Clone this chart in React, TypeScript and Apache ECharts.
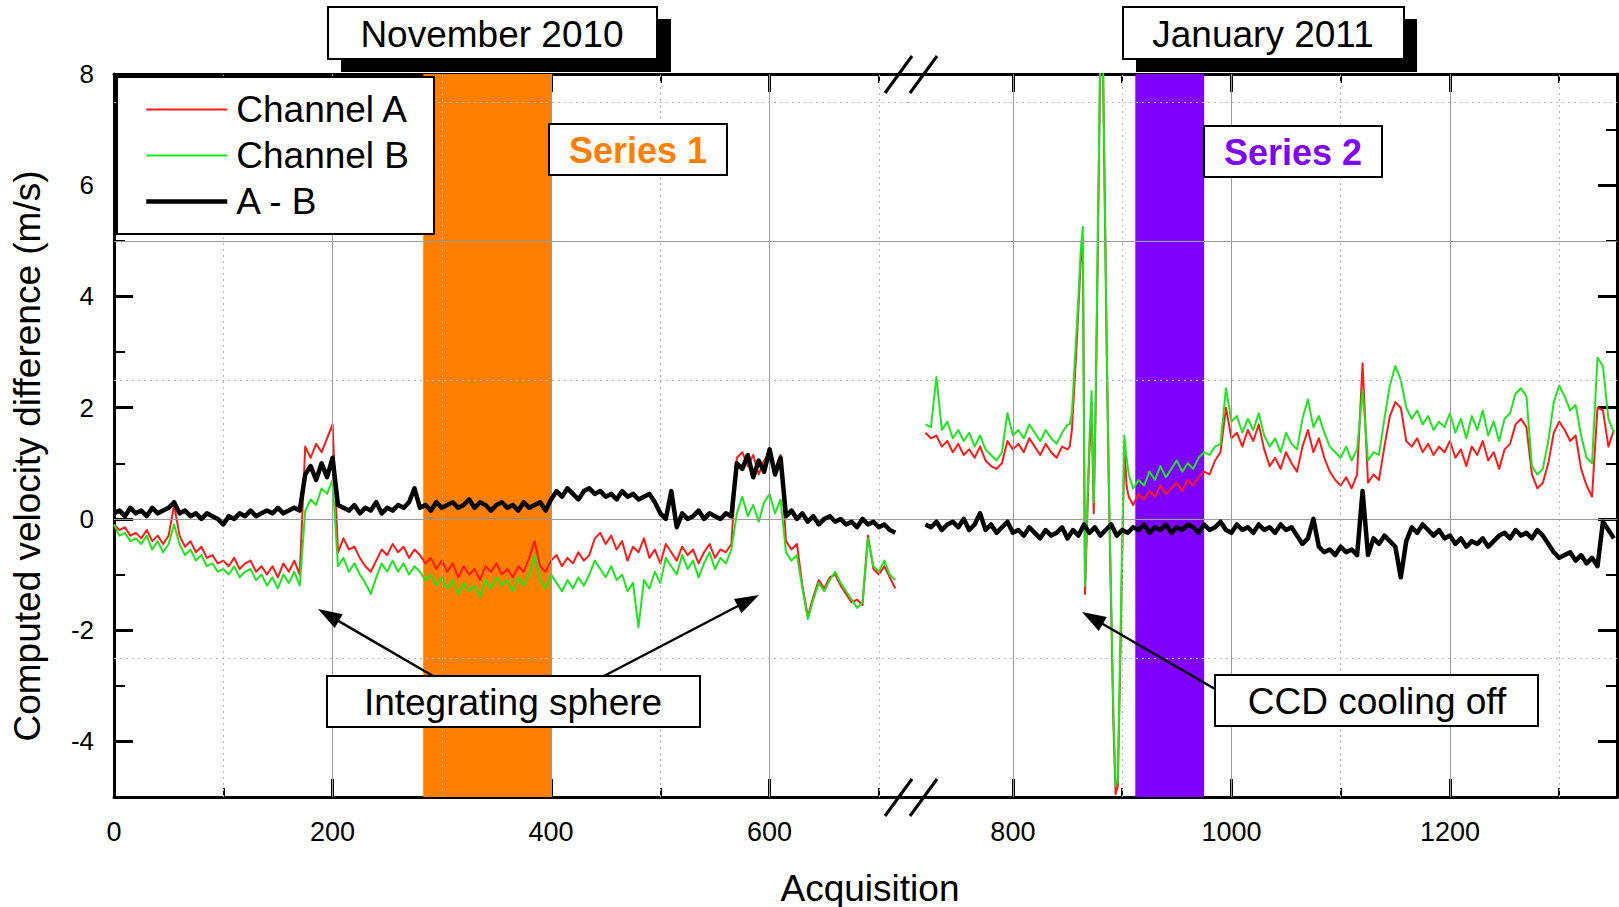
import React, { useEffect, useRef } from "react";
import * as echarts from "echarts";

// ---------- DATA ----------
const range = (a: number, b: number, s: number) => {
  const r: number[] = [];
  for (let x = a; x <= b + 1e-9; x += s) r.push(x);
  return r;
};

// November 2010 block (acquisitions 0..715, every 5th)
const leftX = range(0, 715, 5);
const chA_L = [
  -0.10, -0.20, -0.15, -0.30, -0.25, -0.35, -0.20, -0.40, -0.30, -0.45,
  -0.30, 0.25, -0.30, -0.50, -0.40, -0.60, -0.50, -0.70, -0.65, -0.80,
  -0.75, -0.85, -0.70, -0.90, -0.80, -0.75, -0.95, -0.85, -1.00, -0.85,
  -1.05, -0.80, -0.95, -0.75, -1.00, 1.30, 1.10, 1.35, 1.20, 1.45,
  1.70, -0.60, -0.35, -0.55, -0.50, -0.70, -0.85, -0.95, -0.75, -0.55,
  -0.65, -0.45, -0.60, -0.50, -0.70, -0.55, -0.65, -0.80, -0.70, -0.90,
  -0.75, -0.95, -0.80, -1.05, -0.85, -1.00, -0.90, -1.10, -0.85, -0.95,
  -0.80, -1.00, -0.90, -1.05, -0.85, -0.95, -0.70, -0.40, -0.85, -0.95,
  -0.75, -0.65, -0.85, -0.70, -0.80, -0.60, -0.75, -0.65, -0.35, -0.25,
  -0.45, -0.30, -0.55, -0.40, -0.75, -0.50, -0.60, -0.35, -0.70, -0.55,
  -0.80, -0.45, -0.60, -0.75, -0.50, -0.65, -0.55, -0.80, -0.60, -0.45,
  -0.70, -0.55, -0.60, -0.45, 1.10, 1.20, 0.95, 1.15, 0.80, 1.05,
  1.20, 0.90, 1.15, -0.40, -0.55, -0.45, -1.20, -1.75, -1.40, -1.10,
  -1.25, -1.05, -1.00, -1.20, -1.35, -1.50, -1.45, -1.55, -0.30, -0.90,
  -1.00, -0.85, -1.05, -1.25,
];
const chB_L = [
  -0.10, -0.30, -0.25, -0.40, -0.35, -0.45, -0.30, -0.55, -0.40, -0.60,
  -0.45, -0.10, -0.45, -0.65, -0.55, -0.75, -0.65, -0.85, -0.80, -0.95,
  -0.90, -1.00, -0.85, -1.05, -0.95, -0.90, -1.10, -1.00, -1.20, -1.05,
  -1.25, -1.00, -1.15, -0.95, -1.20, 0.15, 0.35, 0.25, 0.55, 0.45,
  0.70, -0.85, -0.70, -0.95, -0.80, -1.00, -1.15, -1.35, -1.05, -0.80,
  -0.95, -0.75, -0.95, -0.80, -1.00, -0.85, -0.95, -1.10, -1.00, -1.20,
  -1.05, -1.25, -1.10, -1.35, -1.15, -1.30, -1.20, -1.40, -1.10, -1.25,
  -1.05, -1.20, -1.10, -1.30, -1.05, -1.20, -1.00, -0.65, -1.10, -1.25,
  -1.00, -1.15, -1.30, -1.10, -1.25, -1.05, -1.20, -1.00, -0.75, -0.90,
  -1.05, -0.85, -1.10, -1.00, -1.30, -1.15, -1.95, -1.10, -1.25, -0.95,
  -1.15, -0.70, -0.85, -1.00, -0.65, -0.90, -0.75, -1.05, -0.80, -0.60,
  -0.90, -0.70, -0.80, -0.55, 0.10, 0.40, 0.05, 0.25, -0.05, 0.30,
  0.45, 0.10, 0.35, -0.60, -0.75, -0.65, -1.25, -1.80, -1.45, -1.15,
  -1.30, -1.10, -0.95, -1.15, -1.30, -1.45, -1.60, -1.50, -0.35, -0.85,
  -0.95, -0.75, -1.00, -1.10,
];
const diff_L = [
  0.10, 0.15, 0.05, 0.20, 0.10, 0.15, 0.05, 0.20, 0.10, 0.15,
  0.20, 0.30, 0.10, 0.15, 0.05, 0.10, 0.00, 0.10, 0.05, 0.00,
  -0.10, 0.05, 0.00, 0.10, 0.05, 0.15, 0.05, 0.10, 0.15, 0.10,
  0.20, 0.10, 0.15, 0.20, 0.15, 0.80, 0.95, 0.70, 1.00, 0.75,
  1.10, 0.25, 0.20, 0.15, 0.25, 0.10, 0.20, 0.15, 0.30, 0.10,
  0.20, 0.15, 0.25, 0.20, 0.30, 0.55, 0.20, 0.25, 0.15, 0.30,
  0.20, 0.25, 0.30, 0.20, 0.25, 0.35, 0.20, 0.30, 0.25, 0.15,
  0.25, 0.30, 0.20, 0.25, 0.15, 0.30, 0.20, 0.25, 0.30, 0.15,
  0.35, 0.50, 0.40, 0.55, 0.45, 0.35, 0.50, 0.55, 0.45, 0.50,
  0.40, 0.45, 0.35, 0.50, 0.40, 0.45, 0.35, 0.40, 0.45, 0.30,
  0.10, 0.00, 0.50, -0.15, 0.10, 0.00, 0.05, 0.15, 0.00, 0.10,
  0.05, 0.00, 0.10, 0.05, 1.00, 0.90, 1.15, 0.75, 1.05, 0.85,
  1.25, 0.80, 1.10, 0.05, 0.15, 0.00, 0.10, -0.05, 0.05, -0.10,
  0.00, 0.05, -0.05, 0.00, -0.10, -0.05, -0.15, 0.00, -0.10, -0.05,
  -0.15, -0.10, -0.20, -0.25,
];

// January 2011 block
const rightX_AB = [...range(720, 850, 5), ...range(852, 906, 2), ...range(910, 1350, 5)];
const chA_R1 = [
  1.55, 1.45, 1.50, 1.30, 1.40, 1.20, 1.35, 1.15, 1.25, 1.10,
  1.30, 1.05, 0.95, 0.90, 1.00, 1.40, 1.25, 1.35, 1.20, 1.45,
  1.30, 1.15, 1.35, 1.20, 1.10, 1.30, 1.25,
];
const chA_R2 = [
  1.3, 1.6, 2.3, 3.0, 3.8, 4.6, 5.0, -1.35, 0.0, 1.2, 2.1, 0.1, 2.3, 5.3,
  8.3, 8.8, 5.8, 2.8, 0.3, -1.7, -3.7, -4.95, -4.8, -2.8, -0.7, 1.3, 0.6, 0.4,
];
const chA_R3 = [
  0.25, 0.45, 0.35, 0.50, 0.40, 0.60, 0.45, 0.55, 0.65, 0.50,
  0.70, 0.60, 0.75, 0.85, 0.80, 1.05, 1.20, 2.00, 1.45, 1.55,
  1.30, 1.60, 1.40, 1.70, 1.25, 0.95, 1.10, 0.90, 1.20, 1.00,
  0.85, 1.30, 1.60, 1.20, 1.45, 1.10, 0.85, 0.70, 0.60, 0.75,
  0.55, 0.80, 2.80, 0.65, 0.80, 0.70, 1.30, 1.85, 2.10, 2.00, 1.40, 1.30,
  1.45, 1.20, 1.35, 1.15, 1.30, 1.20, 1.40, 1.10, 1.25, 0.95,
  1.30, 1.15, 1.40, 1.05, 1.20, 0.90, 1.25, 1.35, 1.70, 1.80,
  1.65, 0.80, 0.55, 0.65, 1.00, 1.55, 1.75, 1.60, 1.40, 1.50,
  0.90, 0.60, 0.40, 2.00, 1.95, 1.30, 1.60,
];
const chB_R1 = [
  1.70, 1.65, 2.55, 1.60, 1.75, 1.45, 1.60, 1.40, 1.55, 1.30,
  1.50, 1.25, 1.15, 1.05, 1.20, 1.90, 1.50, 1.60, 1.45, 1.70,
  1.55, 1.40, 1.60, 1.45, 1.35, 1.55, 1.70,
];
const chB_R2 = [
  1.7, 1.9, 2.6, 3.3, 4.0, 4.8, 5.25, -1.2, 0.2, 1.4, 2.3, 0.3, 2.5, 5.5,
  8.5, 9.0, 6.0, 3.0, 0.5, -1.5, -3.5, -4.8, -4.7, -2.6, -0.5, 1.5, 1.1, 0.8,
];
const chB_R3 = [
  0.55, 0.70, 0.60, 0.85, 0.70, 0.95, 0.75, 0.90, 1.05, 0.85,
  1.00, 0.90, 1.10, 1.20, 1.15, 1.30, 1.35, 2.35, 1.75, 1.85,
  1.55, 1.80, 1.60, 1.90, 1.50, 1.30, 1.45, 1.20, 1.55, 1.35,
  1.25, 1.80, 2.15, 1.65, 1.85, 1.55, 1.30, 1.20, 1.10, 1.30,
  1.05, 1.25, 2.30, 1.05, 1.20, 1.15, 1.80, 2.40, 2.75, 2.50, 2.00, 1.80,
  1.95, 1.70, 1.85, 1.60, 1.75, 1.65, 1.90, 1.55, 1.80, 1.45,
  1.85, 1.60, 1.95, 1.50, 1.75, 1.40, 1.80, 1.90, 2.25, 2.35,
  2.20, 0.95, 0.80, 0.90, 1.40, 2.10, 2.40, 2.20, 1.95, 2.05,
  1.50, 1.10, 1.00, 2.90, 2.75, 1.80, 1.55,
];
const rightX_D = range(720, 1350, 5);
const diff_R = [
  -0.10, -0.15, -0.05, -0.20, -0.10, -0.05, -0.15, 0.00, -0.20, -0.10,
  0.10, -0.20, -0.10, -0.25, -0.15, -0.05, -0.25, -0.20, -0.30, -0.15,
  -0.25, -0.35, -0.20, -0.30, -0.25, -0.15, -0.35, -0.20, -0.30, -0.10,
  -0.25, -0.15, -0.30, -0.20, -0.10, -0.30, -0.20, -0.25, -0.15, -0.20,
  -0.10, -0.25, -0.15, -0.20, -0.10, -0.25, -0.15, -0.20, -0.10, -0.15,
  -0.25, -0.10, -0.20, -0.15, -0.05, -0.20, -0.25, -0.10, -0.20, -0.15,
  -0.25, -0.10, -0.20, -0.15, -0.25, -0.10, -0.20, -0.15, -0.30, -0.45,
  -0.35, 0.00, -0.50, -0.60, -0.55, -0.65, -0.50, -0.60, -0.55, -0.65,
  0.50, -0.65, -0.35, -0.45, -0.30, -0.40, -0.50, -1.05, -0.40, -0.15,
  -0.25, -0.10, -0.20, -0.30, -0.20, -0.35, -0.30, -0.45, -0.35, -0.50,
  -0.40, -0.45, -0.35, -0.50, -0.40, -0.30, -0.25, -0.35, -0.20, -0.30,
  -0.25, -0.35, -0.20, -0.30, -0.45, -0.60, -0.70, -0.65, -0.60, -0.75,
  -0.65, -0.80, -0.70, -0.85, -0.05, -0.20, -0.35,
];
const chA_R = [...chA_R1, ...chA_R2, ...chA_R3];
const chB_R = [...chB_R1, ...chB_R2, ...chB_R3];

// shaded acquisition ranges
const series1Band = [283, 400];
const series2Band = [912, 975];

// ticks
const leftXMajor = [0, 200, 400, 600];
const leftXMinor = [100, 300, 500, 700];
const rightXMajor = [800, 1000, 1200];
const rightXMinor = [900, 1100, 1300];
const yMajor = [-4, -2, 0, 2, 4, 6, 8];
const yMinor = [-5, -3, -1, 1, 3, 5, 7];
const yGridSolid = [0, 5];
const yGridDotted = [-2.5, 2.5, 7.5];

const legendNames = ["Channel A", "Channel B", "A - B"];

// ---------- STYLE ----------
const FONT = '"Liberation Sans", Arial, Helvetica, sans-serif';
const RED = "#ff1a1a";
const GREEN = "#1ee61e";
const BLACK = "#000000";
const ORANGE = "#ff8000";
const PURPLE = "#7f00ff";

const zip = (xs: number[], ys: number[]) => {
  const n = Math.min(xs.length, ys.length);
  const out: number[][] = [];
  for (let i = 0; i < n; i++) out.push([xs[i], ys[i]]);
  return out;
};

const X_SCALE = 1.0927; // px per acquisition
const G_TOP = 74;
const G_H = 723;
const G1_LEFT = 114;
const G1_W = 794;
const G2_LEFT = 908;
const G2_W = 709;
const L_MAX = G1_W / X_SCALE;
const R_MIN = 704;
const R_MAX = R_MIN + G2_W / X_SCALE;

const plain = (v: number) => String(v);

function xAxis(grid: number, min: number, max: number, position: string, ticks: number[], major: boolean, labels?: number[]) {
  return {
    type: "value",
    gridIndex: grid,
    min,
    max,
    position,
    splitLine: { show: false },
    axisLine: { show: major, onZero: false, lineStyle: { color: "#000", width: 3 } },
    axisTick: {
      show: true,
      inside: true,
      length: major ? 18 : 9,
      customValues: ticks,
      lineStyle: { color: "#000", width: major ? 3 : 2 },
    },
    axisLabel: labels
      ? { show: true, customValues: labels, formatter: plain, fontSize: 27, fontFamily: FONT, color: "#000", margin: 21 }
      : { show: false },
  };
}

function yAxis(grid: number, position: string, ticks: number[], major: boolean, labels?: number[]) {
  return {
    type: "value",
    gridIndex: grid,
    min: -5,
    max: 8,
    position,
    splitLine: { show: false },
    axisLine: { show: major, onZero: false, lineStyle: { color: "#000", width: 3 } },
    axisTick: {
      show: true,
      inside: true,
      length: major ? 19 : 11,
      customValues: ticks,
      lineStyle: { color: "#000", width: major ? 3 : 2 },
    },
    axisLabel: labels
      ? { show: true, customValues: labels, formatter: plain, fontSize: 26, fontFamily: FONT, color: "#000", margin: 20 }
      : { show: false },
  };
}

function gridLines(solidX: number[], dottedX: number[]) {
  const solid = { color: "#9a9a9a", width: 1, type: "solid" };
  const dotted = { color: "#b8b8b8", width: 1, type: [2, 4] };
  return [
    ...solidX.map((v) => ({ xAxis: v, lineStyle: solid })),
    ...dottedX.map((v) => ({ xAxis: v, lineStyle: dotted })),
    ...yGridSolid.map((v) => ({ yAxis: v, lineStyle: solid })),
    ...yGridDotted.map((v) => ({ yAxis: v, lineStyle: dotted })),
  ];
}

function arrow(x1: number, y1: number, x2: number, y2: number) {
  const dx = x2 - x1;
  const dy = y2 - y1;
  const len = Math.sqrt(dx * dx + dy * dy);
  const ux = dx / len;
  const uy = dy / len;
  const L = 24;
  const W = 8;
  const bx = x2 - ux * L;
  const by = y2 - uy * L;
  return [
    { type: "line", z: 100, shape: { x1, y1, x2: bx + ux * 4, y2: by + uy * 4 }, style: { stroke: "#000", lineWidth: 2.5 } },
    {
      type: "polygon",
      z: 100,
      shape: { points: [[x2, y2], [bx - uy * W, by + ux * W], [bx + uy * W, by - ux * W]] },
      style: { fill: "#000" },
    },
  ];
}

function textEl(text: string, x: number, y: number, fontSize: number, fill = "#000", bold = false, rotation = 0) {
  return {
    type: "text",
    z: 102,
    x,
    y,
    rotation,
    style: {
      text,
      fontSize,
      fontFamily: FONT,
      fontWeight: bold ? "bold" : "normal",
      fill,
      textAlign: "center",
      textVerticalAlign: "middle",
      align: "center",
      verticalAlign: "middle",
    },
  };
}

function box(x: number, y: number, w: number, h: number) {
  return { type: "rect", z: 101, shape: { x, y, width: w, height: h }, style: { fill: "#fff", stroke: "#000", lineWidth: 2 } };
}

function shadow(x: number, y: number, w: number, h: number) {
  return { type: "rect", z: 100, shape: { x, y, width: w, height: h }, style: { fill: "#000" } };
}

function breakMarks(cy: number) {
  const s = { stroke: "#000", lineWidth: 3 };
  return [
    { type: "line", z: 100, shape: { x1: 885, y1: cy + 19, x2: 912, y2: cy - 18 }, style: s },
    { type: "line", z: 100, shape: { x1: 910, y1: cy + 19, x2: 937, y2: cy - 18 }, style: s },
  ];
}

export default function App() {
  const ref = useRef<HTMLDivElement>(null);

  useEffect(() => {
    if (!ref.current) return;
    const chart = echarts.init(ref.current, null, { renderer: "svg" });

    const lineSeries = (name: string, xi: number, yi: number, data: number[][], color: string, width: number, z: number) => ({
      name,
      type: "line",
      xAxisIndex: xi,
      yAxisIndex: yi,
      data,
      symbol: "none",
      showSymbol: false,
      silent: true,
      clip: true,
      z,
      lineStyle: { color, width, join: "round" },
      itemStyle: { color },
    });

    const option: any = {
      animation: false,
      backgroundColor: "#fff",
      grid: [
        { left: G1_LEFT, top: G_TOP, width: G1_W, height: G_H },
        { left: G2_LEFT, top: G_TOP, width: G2_W, height: G_H },
      ],
      xAxis: [
        xAxis(0, 0, L_MAX, "bottom", leftXMajor, true, leftXMajor),
        xAxis(0, 0, L_MAX, "bottom", leftXMinor, false),
        xAxis(0, 0, L_MAX, "top", leftXMajor, true),
        xAxis(0, 0, L_MAX, "top", leftXMinor, false),
        xAxis(1, R_MIN, R_MAX, "bottom", rightXMajor, true, rightXMajor),
        xAxis(1, R_MIN, R_MAX, "bottom", rightXMinor, false),
        xAxis(1, R_MIN, R_MAX, "top", rightXMajor, true),
        xAxis(1, R_MIN, R_MAX, "top", rightXMinor, false),
      ],
      yAxis: [
        yAxis(0, "left", yMajor, true, yMajor),
        yAxis(0, "left", yMinor, false),
        yAxis(1, "right", yMajor, true),
        yAxis(1, "right", yMinor, false),
      ],
      legend: {
        show: true,
        data: [
          { name: legendNames[0], lineStyle: { width: 2 } },
          { name: legendNames[1], lineStyle: { width: 2 } },
          { name: legendNames[2], lineStyle: { width: 4.5 } },
        ],
        orient: "vertical",
        left: 117,
        top: 77,
        padding: [14, 25, 14, 27],
        itemGap: 9,
        itemWidth: 81,
        itemHeight: 14,
        backgroundColor: "#fff",
        borderColor: "#000",
        borderWidth: 2,
        selectedMode: false,
        z: 10,
        itemStyle: { opacity: 0 },
        textStyle: { fontSize: 37, fontFamily: FONT, color: "#000", padding: [0, 0, 0, 4] },
      },
      series: [
        {
          type: "line",
          xAxisIndex: 0,
          yAxisIndex: 0,
          data: [],
          z: 1,
          silent: true,
          markLine: { silent: true, symbol: ["none", "none"], label: { show: false }, data: gridLines(leftXMajor.filter((v) => v > 0), leftXMinor) },
        },
        {
          type: "line",
          xAxisIndex: 4,
          yAxisIndex: 2,
          data: [],
          z: 1,
          silent: true,
          markLine: { silent: true, symbol: ["none", "none"], label: { show: false }, data: gridLines(rightXMajor, rightXMinor) },
        },
        {
          type: "line",
          xAxisIndex: 0,
          yAxisIndex: 0,
          data: [],
          z: 2,
          silent: true,
          markArea: { silent: true, itemStyle: { color: ORANGE, opacity: 1 }, data: [[{ xAxis: series1Band[0] }, { xAxis: series1Band[1] }]] },
        },
        {
          type: "line",
          xAxisIndex: 4,
          yAxisIndex: 2,
          data: [],
          z: 2,
          silent: true,
          markArea: { silent: true, itemStyle: { color: PURPLE, opacity: 1 }, data: [[{ xAxis: series2Band[0] }, { xAxis: series2Band[1] }]] },
        },
        lineSeries("Channel A", 0, 0, zip(leftX, chA_L), RED, 2, 3),
        lineSeries("Channel B", 0, 0, zip(leftX, chB_L), GREEN, 2, 4),
        lineSeries("A - B", 0, 0, zip(leftX, diff_L), BLACK, 4.5, 5),
        lineSeries("Channel A", 4, 2, zip(rightX_AB, chA_R), RED, 2, 3),
        lineSeries("Channel B", 4, 2, zip(rightX_AB, chB_R), GREEN, 2, 4),
        lineSeries("A - B", 4, 2, zip(rightX_D, diff_R), BLACK, 4.5, 5),
      ],
      graphic: [
        // header boxes
        shadow(341, 19, 330, 53),
        box(328, 7, 329, 52),
        textEl("November 2010", 492, 34, 37),
        shadow(1136, 19, 281, 53),
        box(1123, 7, 281, 52),
        textEl("January 2011", 1263, 34, 37),
        // series labels
        box(549, 124, 178, 51),
        textEl("Series 1", 638, 150, 36, ORANGE, true),
        box(1204, 126, 178, 51),
        textEl("Series 2", 1293, 152, 36, PURPLE, true),
        // annotations
        ...arrow(433, 676, 318, 609),
        ...arrow(604, 676, 759, 595),
        ...arrow(1215, 689, 1082, 612),
        box(327, 676, 373, 51),
        textEl("Integrating sphere", 513, 702, 37),
        box(1215, 675, 323, 51),
        textEl("CCD cooling off", 1377, 701, 37),
        // axis break marks
        ...breakMarks(74),
        ...breakMarks(797),
        // axis titles
        textEl("Computed velocity difference (m/s)", 27, 456, 37, "#000", false, Math.PI / 2),
        textEl("Acquisition", 870, 888, 37),
      ],
    };

    chart.setOption(option);
    return () => chart.dispose();
  }, []);

  return (
    <div
      ref={ref}
      style={{ position: "fixed", left: 0, top: 0, width: 1619, height: 907, background: "#fff" }}
    />
  );
}
